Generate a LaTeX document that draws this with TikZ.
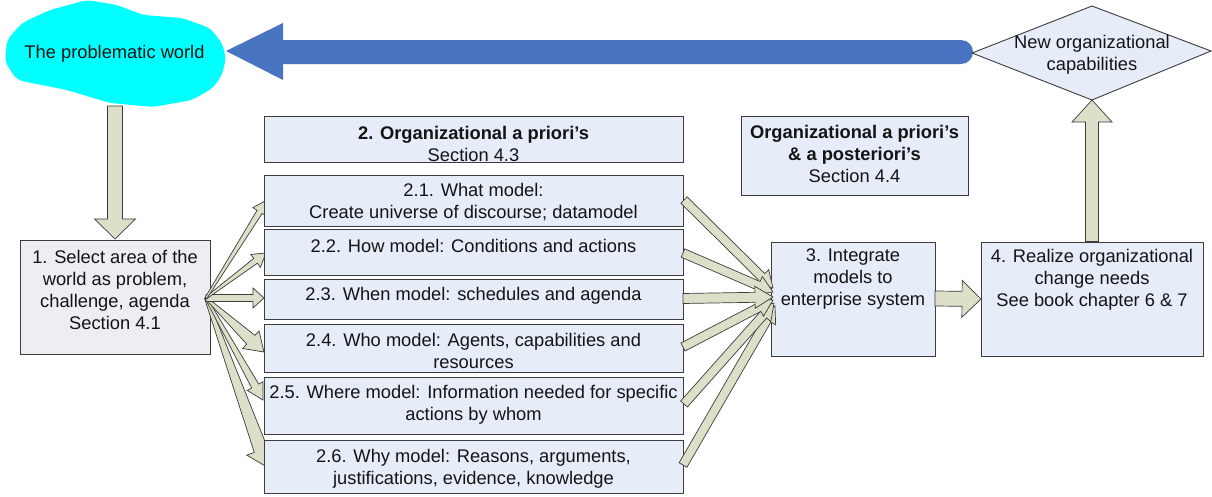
\documentclass[tikz,border=0pt]{standalone}
\usepackage{fontspec}
\setmainfont{Liberation Sans}
\usetikzlibrary{calc}
\definecolor{boxblue}{RGB}{230,236,248}
\definecolor{boxlav}{RGB}{239,237,244}
\definecolor{arrfill}{RGB}{221,223,200}
\definecolor{edgecol}{RGB}{60,60,60}
\definecolor{bigblue}{RGB}{72,116,194}
\definecolor{cloudcyan}{RGB}{0,255,255}
\tikzset{
  box/.style={draw=edgecol, fill=boxblue, line width=0.9pt, inner sep=0pt, outer sep=0pt, anchor=north west},
  txt/.style={font=\fontsize{18.3}{22}\selectfont, align=center, inner sep=0pt, anchor=north, text=black!92},
  barrow/.style={draw=edgecol, fill=arrfill, line width=0.7pt, line join=miter},
}
% #1 tail, #2 tip, #3 half-width at tail, #4 half-width at head base, #5 head half-width, #6 head length
\newcommand\blockarr[6]{%
  \path ($(#2)!#6pt!(#1)$) coordinate (tmpC);
  \draw[barrow] ($(#1)!#3pt!90:(#2)$) -- ($(tmpC)!#4pt!-90:(#1)$) -- ($(tmpC)!#5pt!-90:(#1)$)
    -- (#2) -- ($(tmpC)!#5pt!90:(#1)$) -- ($(tmpC)!#4pt!90:(#1)$) -- ($(#1)!#3pt!-90:(#2)$) -- cycle;
}
\begin{document}
\begin{tikzpicture}[x=1pt,y=-1pt]
\useasboundingbox (0,0) rectangle (1212,496);

% big blue arrow
\coordinate (bigtip) at (226,51);
\coordinate (bigtail) at (973,52);
\fill[bigblue] (bigtip) -- (283,23) -- (283,40) -- (961,40) arc[start angle=90, end angle=-90, radius=12pt]
  -- (283,64) -- (283,80) -- cycle;

% cloud
\fill[cloudcyan, rounded corners=6pt] (5,62) -- (7,40) -- (22,23) -- (50,10) -- (87,0) -- (117,5) -- (143,15)
  -- (182,18) -- (210,28) -- (222,43) -- (226,58) -- (222,75) -- (213,88) -- (192,100) -- (153,107)
  -- (110,103) -- (67,90) -- (17,80) -- cycle;
\node[txt] (cloud) at (114.5,45) {The problematic world};

% diamond
\draw[draw=edgecol, fill=boxblue, line width=0.9pt] (972,53) -- (1092,6) -- (1211,51) -- (1092,100) -- cycle;
\node[txt] (newcap) at (1092,35) {New organizational\\capabilities};

% boxes
\node[box, fill=boxlav, minimum width=190pt, minimum height=114pt] (b1) at (20,240) {};
\node[box, minimum width=419pt, minimum height=46pt] (b2h) at (264,116) {};
\node[box, minimum width=227pt, minimum height=79pt] (bpost) at (741,116) {};
\node[box, minimum width=164pt, minimum height=114pt] (b3) at (771,242) {};
\node[box, minimum width=222pt, minimum height=114pt] (b4) at (981,242) {};

% cloud -> box 1
\coordinate (dtail) at (115,106);
\coordinate (dtip) at (115,239);
\blockarr{dtail}{dtip}{7.5}{7.5}{20.5}{20}

% box 4 -> diamond
\coordinate (utail) at (1092,241.5);
\coordinate (utip) at (1092,100);
\blockarr{utail}{utip}{6.5}{6.5}{20}{22}

% left fan (behind the model boxes)
\coordinate (fanL) at (206,298);
\coordinate (t1) at (267,200);
\coordinate (t2) at (266,253);
\coordinate (t3) at (264,298);
\coordinate (t4) at (264,352);
\coordinate (t5) at (263,400);
\coordinate (t6) at (267,467);
\blockarr{fanL}{t6}{1.5}{7}{15}{18}
\blockarr{fanL}{t5}{1}{4}{9}{16}
\blockarr{fanL}{t4}{1}{6}{12}{18}
\blockarr{fanL}{t3}{3.5}{3.5}{10}{11}
\blockarr{fanL}{t2}{1}{3}{8}{13}
\blockarr{fanL}{t1}{1}{3}{8}{14}

% model boxes
\node[box, minimum width=419pt, minimum height=51pt] (b21) at (264,175) {};
\node[box, minimum width=419pt, minimum height=46pt] (b22) at (264,229) {};
\node[box, minimum width=419pt, minimum height=40pt] (b23) at (264,279) {};
\node[box, minimum width=419pt, minimum height=48pt] (b24) at (264,324) {};
\node[box, minimum width=419pt, minimum height=57pt] (b25) at (264,377) {};
\node[box, minimum width=419pt, minimum height=53pt] (b26) at (264,440) {};

% right fan
\coordinate (s1) at (684,200);
\coordinate (s2) at (683,253);
\coordinate (s3) at (683,298.5);
\coordinate (s4) at (683,347);
\coordinate (s5) at (684,404);
\coordinate (s6) at (683,465);
\coordinate (r1) at (773,288);
\coordinate (r2) at (773,292);
\coordinate (r3) at (773,297);
\coordinate (r4) at (773,300);
\coordinate (r5) at (774,303);
\coordinate (r6) at (775,306);
\blockarr{s1}{r1}{4.5}{4.5}{10}{16}
\blockarr{s2}{r2}{4.5}{4.5}{10}{16}
\blockarr{s6}{r6}{4.5}{4.5}{10}{16}
\blockarr{s5}{r5}{4.5}{4.5}{10}{16}
\blockarr{s4}{r4}{4.5}{4.5}{10}{16}
\blockarr{s3}{r3}{5}{5}{11}{18}

% box 3 -> box 4
\coordinate (m34a) at (935,298.5);
\coordinate (m34b) at (981,299);
\blockarr{m34a}{m34b}{7.5}{7.5}{18.5}{19}

% texts
\node[txt] (b1t) at (115,250) {1. Select area of the\\world as problem,\\challenge, agenda\\Section 4.1};
\node[txt] (b2ht) at (473.5,126) {\textbf{2. Organizational a priori’s}\\Section 4.3};
\node[txt] (b21t) at (473.5,183) {2.1. What model:\\Create universe of discourse; datamodel};
\node[txt] (b22t) at (473.5,239) {2.2. How model: Conditions and actions};
\node[txt] (b23t) at (473.5,287) {2.3. When model: schedules and agenda};
\node[txt] (b24t) at (473.5,333) {2.4. Who model: Agents, capabilities and\\resources};
\node[txt] (b25t) at (473.5,385) {2.5. Where model: Information needed for specific\\actions by whom};
\node[txt] (b26t) at (473.5,449) {2.6. Why model: Reasons, arguments,\\justifications, evidence, knowledge};
\node[txt] (bpostt) at (854.5,125) {\textbf{Organizational a priori’s}\\\textbf{\& a posteriori’s}\\Section 4.4};
\node[txt] (b3t) at (853,249) {3. Integrate\\models to\\enterprise system};
\node[txt] (b4t) at (1092,249) {4. Realize organizational\\change needs\\See book chapter 6 \& 7};
\end{tikzpicture}
\end{document}
